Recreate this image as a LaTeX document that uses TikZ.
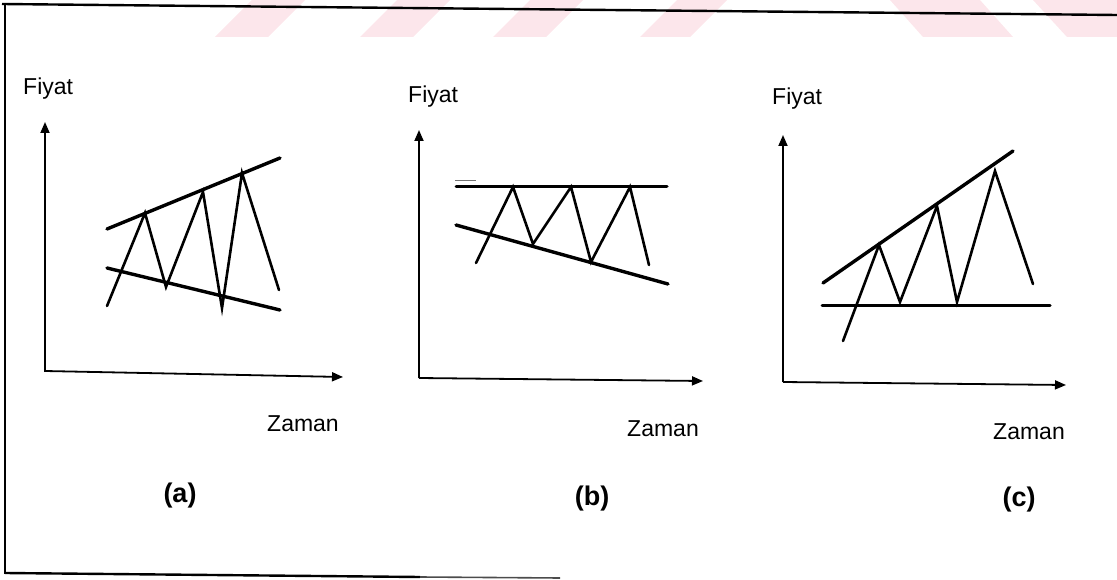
\documentclass[tikz,border=0pt]{standalone}
\usepackage{fontspec}
\setmainfont{Liberation Sans}
\usetikzlibrary{arrows.meta}
\definecolor{wm}{RGB}{252,230,235}
\tikzset{
  axisline/.style={line width=1.8pt,-{Triangle[length=11pt,width=9pt]}},
  trendline/.style={line width=3.4pt,line cap=round},
  zigline/.style={line width=2.6pt,line cap=round,line join=miter},
  framel/.style={line width=2.4pt},
  axlabel/.style={inner sep=0pt,font=\fontsize{23}{23}\selectfont},
  panellabel/.style={inner sep=0pt,font=\fontsize{27}{27}\selectfont\bfseries},
  stripe/.style={fill=wm,draw=none}
}
\begin{document}
\begin{tikzpicture}[x=1pt,y=-1pt]
\useasboundingbox (0,0) rectangle (1117,580);
% watermark stripes
\fill[stripe] (215,37) -- (268,37) -- (305,0) -- (252,0) -- cycle;
\fill[stripe] (360,37) -- (413,37) -- (450,0) -- (397,0) -- cycle;
\fill[stripe] (493,37) -- (546,37) -- (583,0) -- (530,0) -- cycle;
\fill[stripe] (640,37) -- (690,37) -- (727,0) -- (677,0) -- cycle;
\fill[stripe] (890,0) -- (980,0) -- (1013,37) -- (923,37) -- cycle;
\fill[stripe] (1033,0) -- (1117,0) -- (1117,37) -- (1067,37) -- cycle;
% frame
\draw[framel] (2,4) -- (1117,15);
\draw[framel] (5,4) -- (5,574);
\draw[framel] (5,573) -- (420,577);
\draw[line width=1.6pt,black!70] (420,577) -- (560,578);

% ---------- panel (a)
\coordinate (aO) at (45,372);
\coordinate (aY) at (45,122);
\coordinate (aX0) at (45,371);
\coordinate (aX) at (343,377);
\draw[axisline] (aO) -- (aY);
\draw[axisline] (aX0) -- (aX);
\coordinate (aU1) at (107,229); \coordinate (aU2) at (280,158);
\coordinate (aL1) at (107,268); \coordinate (aL2) at (280,310);
\draw[trendline] (aU1) -- (aU2);
\draw[trendline] (aL1) -- (aL2);
\coordinate (a1) at (107,306); \coordinate (a2) at (145,213);
\coordinate (a3) at (166,287); \coordinate (a4) at (203,192);
\coordinate (a5) at (222,308); \coordinate (a6) at (242,173);
\coordinate (a7) at (279,290);
\draw[zigline] (a1) -- (a2) -- (a3) -- (a4) -- (a5) -- (a6) -- (a7);
\node[axlabel,anchor=base west] (aFiyat) at (23,95) {Fiyat};
\node[axlabel,anchor=base] (aZaman) at (303,431) {Zaman};
\node[panellabel] (aLab) at (180,496) {(a)};

% ---------- panel (b)
\coordinate (bO) at (419,378);
\coordinate (bY) at (419,130);
\coordinate (bX) at (703,381);
\draw[axisline] (bO) -- (bY);
\draw[axisline] (bO) -- (bX);
\coordinate (bU1) at (456,187); \coordinate (bU2) at (667,187);
\coordinate (bL1) at (456,225); \coordinate (bL2) at (668,284);
\draw[trendline,line width=3pt] (bU1) -- (bU2);
\draw[trendline] (bL1) -- (bL2);
\coordinate (bs1) at (455,180); \coordinate (bs2) at (476,180);
\draw[line width=0.7pt,black!55] (bs1) -- (bs2);
\coordinate (b1) at (476,263); \coordinate (b2) at (513,187);
\coordinate (b3) at (533,244); \coordinate (b4) at (571,187);
\coordinate (b5) at (591,262); \coordinate (b6) at (630,187);
\coordinate (b7) at (649,265);
\draw[zigline] (b1) -- (b2) -- (b3) -- (b4) -- (b5) -- (b6) -- (b7);
\node[axlabel,anchor=base west] (bFiyat) at (408,103) {Fiyat};
\node[axlabel,anchor=base] (bZaman) at (663,436) {Zaman};
\node[panellabel] (bLab) at (592,499) {(b)};

% ---------- panel (c)
\coordinate (cO) at (783,382);
\coordinate (cY) at (783,135);
\coordinate (cX) at (1066,385);
\draw[axisline] (cO) -- (cY);
\draw[axisline] (cO) -- (cX);
\coordinate (cU1) at (823,283); \coordinate (cU2) at (1013,151);
\coordinate (cH1) at (822,305); \coordinate (cH2) at (1050,305);
\draw[trendline] (cU1) -- (cU2);
\draw[trendline,line width=3pt] (cH1) -- (cH2);
\coordinate (c1) at (843,341); \coordinate (c2) at (879,245);
\coordinate (c3) at (900,302); \coordinate (c4) at (937,206);
\coordinate (c5) at (957,302); \coordinate (c6) at (995,171);
\coordinate (c7) at (1033,284);
\draw[zigline] (c1) -- (c2) -- (c3) -- (c4) -- (c5) -- (c6) -- (c7);
\node[axlabel,anchor=base west] (cFiyat) at (772,105) {Fiyat};
\node[axlabel,anchor=base] (cZaman) at (1029,439) {Zaman};
\node[panellabel] (cLab) at (1019,500) {(c)};
\end{tikzpicture}
\end{document}
